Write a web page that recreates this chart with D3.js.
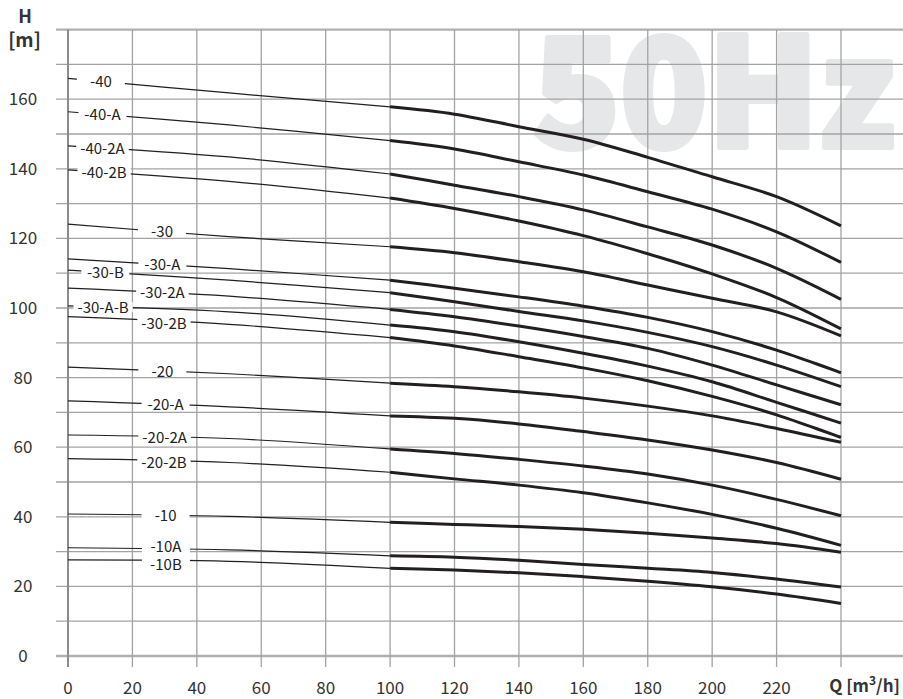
<!DOCTYPE html>
<html>
<head>
<meta charset="utf-8">
<script src="https://cdn.jsdelivr.net/npm/d3@7"></script>
<style>
  html, body { margin: 0; padding: 0; background: #fff; }
  svg { display: block; }
</style>
</head>
<body>
<svg id="chart" width="903" height="699"></svg>
<script>
// Pump performance curves, 50 Hz: head H [m] versus flow Q [m³/h]
const models = ["-40", "-40-A", "-40-2A", "-40-2B",
                "-30", "-30-A", "-30-B", "-30-2A", "-30-A-B", "-30-2B",
                "-20", "-20-A", "-20-2A", "-20-2B",
                "-10", "-10A", "-10B"];

// Flow points; 0–100 is the thin extension, 100–240 the working range
const flowPoints = [0, 50, 100, 120, 140, 160, 180, 200, 220, 240];

const head40 = [
  [166.0, 161.8, 157.8, 155.7, 152.1, 148.5, 143.3, 137.7, 132.0, 123.6],
  [156.4, 152.6, 148.1, 145.7, 142.0, 138.2, 133.4, 128.4, 121.9, 113.1],
  [146.6, 143.4, 138.5, 135.3, 132.0, 128.2, 123.3, 118.1, 111.4, 102.5],
  [139.7, 136.4, 131.6, 128.6, 125.0, 120.8, 115.6, 109.8, 103.0, 94.0]
];
const head30 = [
  [124.1, 120.5, 117.6, 115.9, 113.3, 110.4, 106.6, 102.8, 98.9, 92.0],
  [114.1, 111.3, 108.0, 105.7, 103.2, 100.5, 97.3, 93.2, 87.9, 81.4],
  [110.9, 108.0, 104.4, 101.8, 99.0, 96.3, 93.0, 88.9, 83.6, 77.4],
  [105.7, 103.4, 99.6, 97.5, 94.8, 91.8, 88.4, 83.6, 77.9, 72.2],
  [100.6, 98.9, 95.1, 93.2, 90.3, 87.0, 83.3, 78.8, 72.9, 66.9],
  [97.5, 95.3, 91.5, 89.1, 86.0, 82.8, 79.1, 74.6, 69.3, 62.8]
];
const head20 = [
  [83.0, 81.1, 78.4, 77.4, 75.9, 74.1, 71.8, 69.0, 65.4, 61.4],
  [73.3, 71.6, 69.0, 68.3, 66.7, 64.5, 62.1, 59.2, 55.6, 50.8],
  [63.5, 62.5, 59.5, 58.2, 56.5, 54.6, 52.3, 49.1, 45.0, 40.3],
  [56.7, 55.6, 52.8, 50.9, 49.1, 46.9, 44.0, 40.7, 36.7, 31.8]
];
const head10 = [
  [40.8, 40.1, 38.4, 37.8, 37.2, 36.4, 35.3, 33.9, 32.3, 29.8],
  [31.1, 30.5, 28.8, 28.4, 27.5, 26.3, 25.2, 24.0, 22.1, 19.8],
  [27.6, 27.2, 25.2, 24.7, 23.9, 22.8, 21.5, 19.9, 17.8, 15.1]
];

// Flow at which each model name sits on its thin line, and its nudge in px
const labelFlow = [10.2, 10.7, 10.7, 11.2,
                   29.2, 29.3, 11.6, 29.3, 10.9, 29.8,
                   29.3, 30.3, 30.0, 29.8,
                   30.3, 30.4, 30.4];
const labelNudge = [0, 0, 0, 0,
                    0, 0, 0, 0, 0, 2,
                    0, 0, 0, 1.5,
                    0, -2.5, 3.5];

const xTicks = d3.range(0, 221, 20);
const yTicks = d3.range(0, 161, 20);
const xGrid = d3.range(0, 241, 20);
const yGrid = d3.range(0, 181, 10);

const heads = [...head40, ...head30, ...head20, ...head10];

const W = 903;
const x = d3.scaleLinear().domain([0, 240]).range([68, 841]);
const y = d3.scaleLinear().domain([0, 180]).range([656, 29.6]);

const svg = d3.select("#chart");
const FONT = "'Noto Sans CJK SC', 'Noto Sans', sans-serif";
const ink = "#231f20";
const gridColor = "#a3a3a3";

// Watermark
svg.append("text")
  .attr("x", 533).attr("y", 147)
  .attr("textLength", 362).attr("lengthAdjust", "spacingAndGlyphs")
  .attr("font-family", FONT).attr("font-weight", 900).attr("font-size", 150)
  .attr("fill", "#e6e7e9")
  .attr("stroke", "#e6e7e9").attr("stroke-width", 6).attr("stroke-linejoin", "round")
  .text("50Hz");

// Grid
const grid = svg.append("g");
grid.selectAll("line.h").data(yGrid).join("line")
  .attr("class", "h")
  .attr("x1", 56).attr("x2", W)
  .attr("y1", d => y(d)).attr("y2", d => y(d))
  .attr("stroke", d => (d === 0 || d === 180) ? "#b0b0b0" : gridColor)
  .attr("stroke-width", d => (d === 0 || d === 180) ? 2.4 : 1.3);
grid.selectAll("line.v").data(xGrid).join("line")
  .attr("class", "v")
  .attr("x1", d => x(d)).attr("x2", d => x(d))
  .attr("y1", y(180)).attr("y2", 667)
  .attr("stroke", d => d === 0 ? "#8c8c8c" : gridColor)
  .attr("stroke-width", d => d === 0 ? 2 : 1.3);

// Tick labels
svg.append("g").selectAll("text").data(yTicks).join("text")
  .attr("x", 23).attr("y", d => y(d) + 6)
  .attr("text-anchor", "middle")
  .attr("font-family", FONT).attr("font-size", 17).attr("fill", "#333")
  .text(d => d);
svg.append("g").selectAll("text").data(xTicks).join("text")
  .attr("x", d => x(d)).attr("y", 694)
  .attr("text-anchor", "middle")
  .attr("font-family", FONT).attr("font-size", 17).attr("fill", "#333")
  .text(d => d);

// Axis titles
svg.append("text").attr("x", 25).attr("y", 23)
  .attr("text-anchor", "middle").attr("font-family", FONT)
  .attr("font-weight", 700).attr("font-size", 18).attr("fill", "#333").text("H");
svg.append("text").attr("x", 24.5).attr("y", 47)
  .attr("text-anchor", "middle").attr("font-family", FONT)
  .attr("font-weight", 700).attr("font-size", 19).attr("fill", "#333").text("[m]");
const qt = svg.append("text").attr("x", 900).attr("y", 692)
  .attr("text-anchor", "end").attr("font-family", FONT)
  .attr("font-weight", 700).attr("font-size", 17).attr("fill", "#333");
qt.append("tspan").text("Q [m");
qt.append("tspan").attr("font-size", 12).attr("dy", -7).text("3");
qt.append("tspan").attr("dy", 7).text("/h]");

// Curves
const line = d3.line()
  .x(d => x(d[0])).y(d => y(d[1]))
  .curve(d3.curveCatmullRom.alpha(0.5));

const curves = svg.append("g");
heads.forEach(h => {
  const pts = flowPoints.map((q, j) => [q, h[j]]);
  const thin = pts.filter(p => p[0] <= 100);
  const thick = pts.filter(p => p[0] >= 100);
  curves.append("path").attr("d", line(thin))
    .attr("fill", "none").attr("stroke", ink).attr("stroke-width", 1.2);
  curves.append("path").attr("d", line(thick))
    .attr("fill", "none").attr("stroke", ink).attr("stroke-width", 3);
});

// Model labels, each on a white patch that breaks its thin line
const labels = svg.append("g");
models.forEach((m, i) => {
  const h = heads[i];
  const q = labelFlow[i];
  const hv = d3.scaleLinear().domain(flowPoints.slice(0, 3)).range(h.slice(0, 3))(q);
  const cx = x(q), cy = y(hv);
  const ty = cy + labelNudge[i];
  const g = labels.append("g");
  const rect = g.append("rect").attr("fill", "#fff");
  const t = g.append("text")
    .attr("x", cx).attr("y", ty + 5.5)
    .attr("text-anchor", "middle")
    .attr("font-family", FONT).attr("font-size", 15).attr("fill", "#222")
    .text(m);
  const w = Math.max(t.node().getComputedTextLength() + 8, 48);
  rect.attr("x", cx - w / 2).attr("y", cy - 5).attr("width", w).attr("height", 10);
});
</script>
</body>
</html>
